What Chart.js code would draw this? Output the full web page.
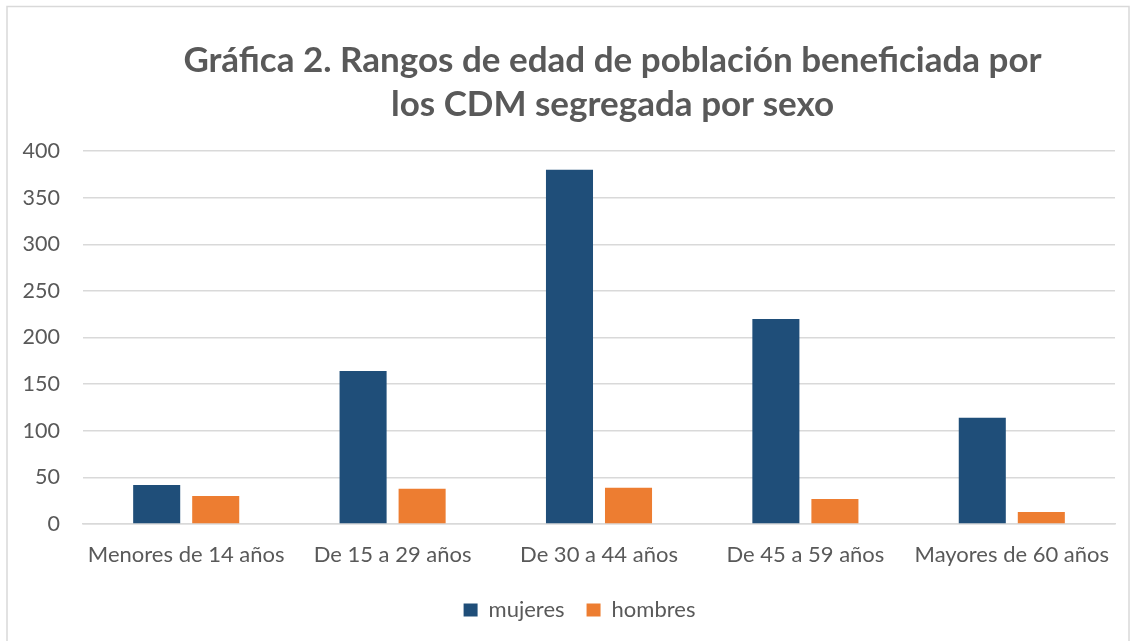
<!DOCTYPE html>
<html>
<head>
<meta charset="utf-8">
<script src="https://cdn.jsdelivr.net/npm/chart.js@4/dist/chart.umd.min.js"></script>
<style>
html,body{margin:0;padding:0;background:#fff;}
#wrap{position:absolute;left:0;top:0;width:1133px;height:641px;}
</style>
</head>
<body>
<div id="wrap"><canvas id="c" width="1133" height="641"></canvas></div>
<script>
const categories = ["Menores de 14 años","De 15 a 29 años","De 30 a 44 años","De 45 a 59 años","Mayores de 60 años"];
const mujeres = [42,164,380,220,114];
const hombres = [30,38,39,27,13];
const seriesNames = ["mujeres","hombres"];
const titleLines = ["Gráfica 2. Rangos de edad de población beneficiada por","los CDM segregada por sexo"];

const FONT = "Lato, 'Open Sans', sans-serif";

const borderPlugin = {
  id:'borderPlugin',
  beforeDraw(chart){
    const ctx = chart.ctx;
    ctx.save();
    ctx.fillStyle='#fff';
    ctx.fillRect(0,0,chart.width,chart.height);
    ctx.strokeStyle='#d9d9d9';
    ctx.lineWidth=1.5;
    ctx.strokeRect(7,6.5,1122,700);
    ctx.restore();
  }
};

const shiftPlugin = {
  id:'shiftPlugin',
  afterLayout(chart){
    if (chart.titleBlock){ chart.titleBlock.left += 45; chart.titleBlock.right += 45; }
    if (chart.legend){ chart.legend.left += 12; chart.legend.right += 12; }
  }
};

new Chart(document.getElementById('c'),{
  type:'bar',
  data:{
    labels:categories,
    datasets:[
      {label:seriesNames[0],data:mujeres,backgroundColor:'#1f4e79',borderWidth:0,categoryPercentage:0.572,barPercentage:0.797},
      {label:seriesNames[1],data:hombres,backgroundColor:'#ed7d31',borderWidth:0,categoryPercentage:0.572,barPercentage:0.797}
    ]
  },
  options:{
    responsive:false,
    animation:false,
    devicePixelRatio:1,
    layout:{padding:{left:20,right:18,top:0,bottom:10}},
    plugins:{
      tooltip:{enabled:false},
      title:{
        display:true,
        text:titleLines,
        color:'#595959',
        font:{family:FONT,size:35,weight:'bold',lineHeight:1.257},
        padding:{top:39,bottom:24}
      },
      legend:{
        display:true,
        position:'bottom',
        labels:{
          color:'#595959',
          font:{family:FONT,size:22},
          boxWidth:14,boxHeight:13,
          padding:22
        }
      }
    },
    scales:{
      x:{
        grid:{display:false,drawTicks:false},
        border:{display:true,color:'#d9d9d9',width:1.5},
        ticks:{color:'#595959',font:{family:FONT,size:22},padding:18,maxRotation:0},
        afterFit(s){ s.height = s.height - 9.5; }
      },
      y:{
        min:0,max:400,
        grid:{color:'#d9d9d9',lineWidth:1.5,drawTicks:false},
        border:{display:false},
        ticks:{stepSize:50,color:'#595959',font:{family:FONT,size:21.5},padding:23},
        afterFit(s){ s.width = 63; }
      }
    }
  },
  plugins:[borderPlugin, shiftPlugin]
});
</script>
</body>
</html>
